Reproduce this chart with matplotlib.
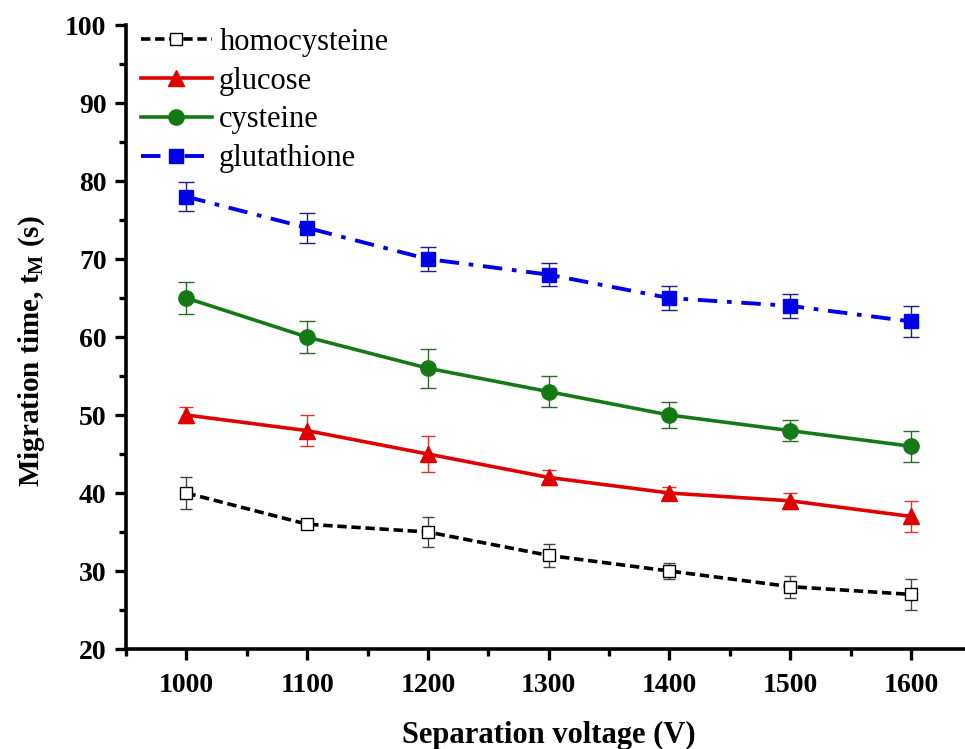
import matplotlib
matplotlib.use("Agg")
import matplotlib.pyplot as plt
from matplotlib.ticker import MultipleLocator

plt.rcParams['font.family'] = ['Liberation Serif', 'DejaVu Serif']
plt.rcParams['mathtext.fontset'] = 'custom'
plt.rcParams['mathtext.rm'] = 'Liberation Serif:bold'
plt.rcParams['mathtext.it'] = 'Liberation Serif:bold'

# separation voltage (V)
voltage = [1000, 1100, 1200, 1300, 1400, 1500, 1600]

# migration times (s) and standard deviations
homocysteine = [40, 36, 35, 32, 30, 28, 27]
homocysteine_err = [2.0, 0.4, 1.9, 1.5, 1.0, 1.4, 2.0]
glucose = [50, 48, 45, 42, 40, 39, 37]
glucose_err = [1.0, 2.0, 2.3, 1.0, 0.8, 1.0, 2.0]
cysteine = [65, 60, 56, 53, 50, 48, 46]
cysteine_err = [2.0, 2.0, 2.5, 2.0, 1.7, 1.3, 2.0]
glutathione = [78, 74, 70, 68, 65, 64, 62]
glutathione_err = [1.9, 1.9, 1.5, 1.5, 1.5, 1.5, 2.0]

fig = plt.figure(figsize=(9.65, 7.49), dpi=100)
ax = fig.add_axes([0.1306, 0.1335, 0.876, 0.833])

ax.errorbar(voltage, homocysteine, yerr=homocysteine_err, color='black',
            ls=(0, (2.6, 1.3)), lw=2.6, marker='s', ms=8, mfc='white',
            mec='black', mew=1.0, ecolor='#444444', elinewidth=1.0,
            capsize=4, capthick=1.0, label='homocysteine')
ax.errorbar(voltage, glucose, yerr=glucose_err, color='#e00000',
            ls='-', lw=2.6, marker='^', ms=12, ecolor='#e03030',
            elinewidth=1.0, capsize=5, capthick=1.0, label='glucose')
ax.errorbar(voltage, cysteine, yerr=cysteine_err, color='#157a15',
            ls='-', lw=2.6, marker='o', ms=11, ecolor='#2a6a2a',
            elinewidth=1.0, capsize=6, capthick=1.0, label='cysteine')
ax.errorbar(voltage, glutathione, yerr=glutathione_err, color='#0000e6',
            ls=(0, (5, 2.5, 1.2, 2.5)), lw=2.8, marker='s', ms=10,
            ecolor='#202080', elinewidth=1.0, capsize=6, capthick=1.0,
            label='glutathione')

ax.set_xlim(950, 1650)
ax.set_ylim(20, 100)
ax.xaxis.set_major_locator(MultipleLocator(100))
ax.xaxis.set_minor_locator(MultipleLocator(50))
ax.yaxis.set_major_locator(MultipleLocator(10))
ax.yaxis.set_minor_locator(MultipleLocator(5))

for side in ['top', 'right']:
    ax.spines[side].set_visible(False)
for side in ['left', 'bottom']:
    ax.spines[side].set_linewidth(2.6)

ax.tick_params(which='major', direction='out', length=8, width=2.4,
               labelsize=20, pad=6)
ax.tick_params(axis='x', which='major', pad=9)
ax.tick_params(which='minor', direction='out', length=5, width=2.4)
for lbl in ax.get_xticklabels() + ax.get_yticklabels():
    lbl.set_fontweight('bold')

ax.set_xlabel('Separation voltage (V)', fontsize=22, fontweight='bold',
              labelpad=17)
ax.set_ylabel('Migration time, t$_\\mathrm{M}$ (s)', fontsize=21,
              fontweight='bold')
ax.yaxis.set_label_coords(-0.094, 0.478)

# legend shows only the line + marker, without error bars
handles, labels = ax.get_legend_handles_labels()
ax.legend([h[0] for h in handles], labels, loc='upper left', frameon=False,
          fontsize=22, handlelength=2.3, handletextpad=0.25,
          labelspacing=0.32, borderaxespad=0.1, bbox_to_anchor=(0.0, 1.02))

fig.savefig('out.png', dpi=100)
